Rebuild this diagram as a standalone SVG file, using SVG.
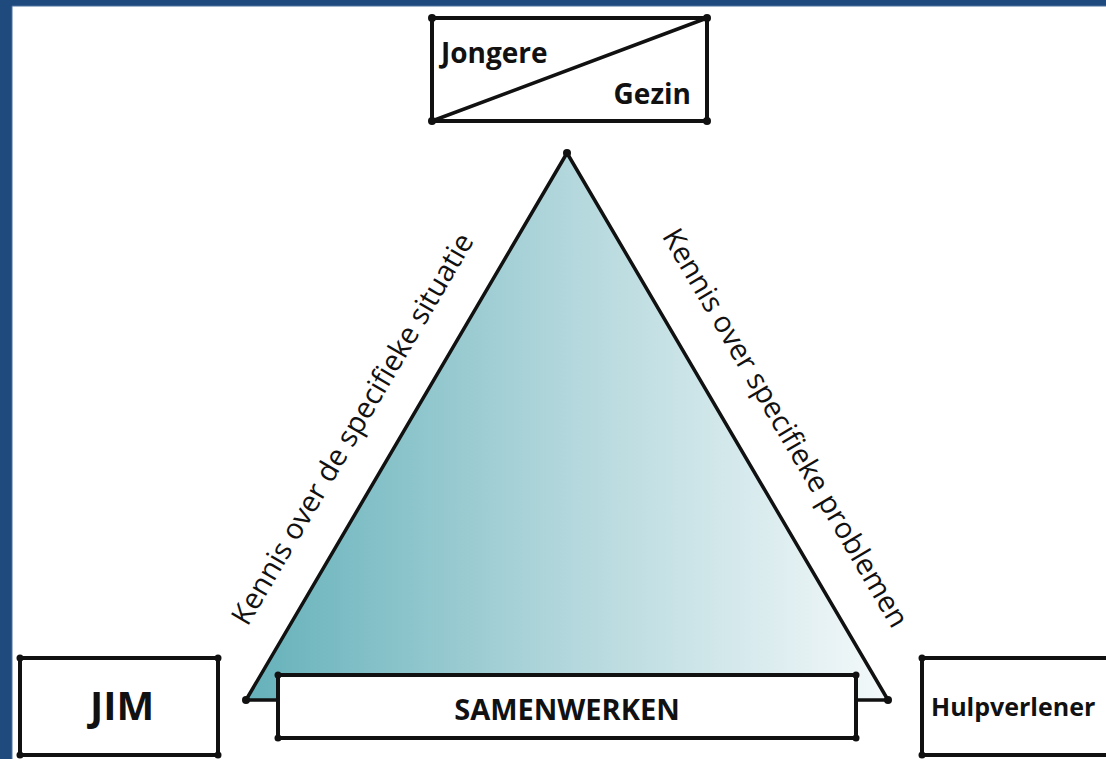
<svg xmlns="http://www.w3.org/2000/svg" width="1106" height="759" viewBox="0 0 1106 759">
<defs>
<linearGradient id="tri" x1="246" y1="0" x2="888" y2="0" gradientUnits="userSpaceOnUse">
<stop offset="0" stop-color="#65b1ba"/>
<stop offset="0.5" stop-color="#b2d7dc"/>
<stop offset="1" stop-color="#f4f9fa"/>
</linearGradient>
<style>
.box{fill:#fff;stroke:#111;stroke-width:4;stroke-linejoin:round}
.edge{fill:none;stroke:#111;stroke-width:3.5;stroke-linecap:round}
.dot{fill:#111}
.bold{font-family:"Open Sans","Liberation Sans",sans-serif;font-weight:700;fill:#111}
.side{font-family:"Open Sans","Liberation Sans",sans-serif;font-weight:400;font-size:29px;fill:#111}
</style>
</defs>
<rect x="0" y="0" width="1106" height="759" fill="#1f4a7d"/>
<rect x="12" y="6" width="1094" height="753" fill="#fff"/>
<line x1="12" y1="6" x2="1106" y2="6" stroke="#4d70a0" stroke-width="1"/>
<line x1="12" y1="6" x2="12" y2="759" stroke="#4d70a0" stroke-width="1"/>

<g id="triangle">
<polygon points="567,153 246,700 888,700" fill="url(#tri)" stroke="#111" stroke-width="3.5" stroke-linejoin="round"/>
<circle class="dot" cx="567" cy="153" r="4"/>
<circle class="dot" cx="246" cy="700" r="4"/>
<circle class="dot" cx="888" cy="700" r="4"/>
</g>

<g id="connectors">
<text class="side" transform="translate(361,434) rotate(-59.6)" text-anchor="middle">Kennis over de specifieke situatie</text>
<text class="side" transform="translate(777,433) rotate(59.6)" text-anchor="middle">Kennis over specifieke problemen</text>
</g>

<g id="jongere-gezin">
<rect class="box" x="432" y="18" width="275" height="103"/>
<line class="edge" x1="432" y1="121" x2="707" y2="18"/>
<circle class="dot" cx="432" cy="18" r="4"/>
<circle class="dot" cx="707" cy="18" r="4"/>
<circle class="dot" cx="432" cy="121" r="4"/>
<circle class="dot" cx="707" cy="121" r="4"/>
<text class="bold" x="441" y="63" font-size="28">Jongere</text>
<text class="bold" x="691" y="104" font-size="28" text-anchor="end">Gezin</text>
</g>

<g id="samenwerken">
<rect class="box" x="278" y="675" width="578" height="63"/>
<circle class="dot" cx="278" cy="675" r="3.5"/>
<circle class="dot" cx="856" cy="675" r="3.5"/>
<circle class="dot" cx="278" cy="738" r="3.5"/>
<circle class="dot" cx="856" cy="738" r="3.5"/>
<text class="bold" x="567" y="720" font-size="29" text-anchor="middle">SAMENWERKEN</text>
</g>

<g id="jim">
<rect class="box" x="20" y="658" width="198" height="97"/>
<circle class="dot" cx="20" cy="658" r="3.5"/>
<circle class="dot" cx="218" cy="658" r="3.5"/>
<circle class="dot" cx="20" cy="755" r="3.5"/>
<circle class="dot" cx="218" cy="755" r="3.5"/>
<text class="bold" x="122" y="720" font-size="40" text-anchor="middle">JIM</text>
</g>

<g id="hulpverlener">
<rect class="box" x="922" y="658" width="200" height="97"/>
<circle class="dot" cx="922" cy="658" r="3.5"/>
<circle class="dot" cx="922" cy="755" r="3.5"/>
<text class="bold" x="931" y="716" font-size="25">Hulpverlener</text>
</g>
</svg>
